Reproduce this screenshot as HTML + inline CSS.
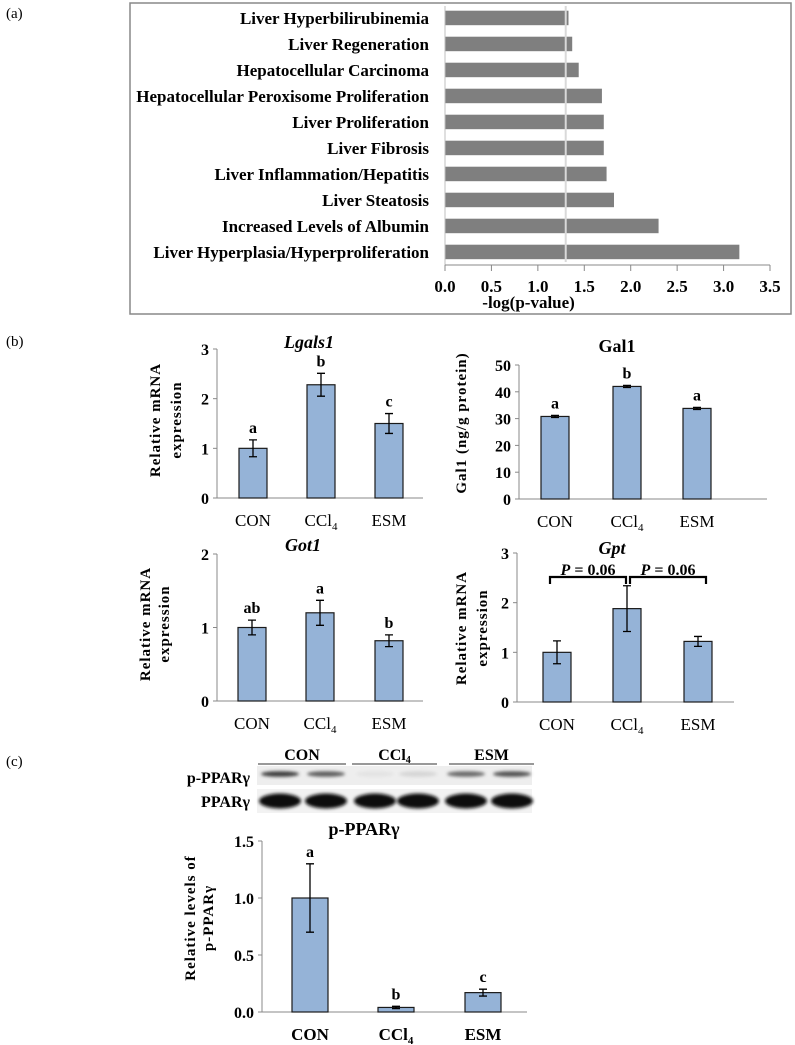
<!DOCTYPE html>
<html><head><meta charset="utf-8">
<style>
html,body{margin:0;padding:0;background:#fff;}
svg{display:block;font-family:"Liberation Serif",serif;}
</style></head>
<body>
<svg id="fig" width="795" height="1045" viewBox="0 0 795 1045" xmlns="http://www.w3.org/2000/svg">
<defs>
<filter id="blur1" x="-20%" y="-50%" width="140%" height="200%"><feGaussianBlur stdDeviation="1.6"/></filter>
</defs>
<rect x="0" y="0" width="795" height="1045" fill="#fff"/>
<text x="6" y="18" font-size="15">(a)</text>
<text x="6" y="346" font-size="15">(b)</text>
<text x="6" y="766" font-size="15">(c)</text>
<rect x="130" y="3" width="661" height="311" fill="none" stroke="#888" stroke-width="1.5"/>
<g id="pa"></g>
<g id="pb"></g>
<g id="pc"></g>
</svg>
<script>
const NS="http://www.w3.org/2000/svg";
// ---- Panel (a) data ----
const aCategories=["Liver Hyperbilirubinemia","Liver Regeneration","Hepatocellular Carcinoma","Hepatocellular Peroxisome Proliferation","Liver Proliferation","Liver Fibrosis","Liver Inflammation/Hepatitis","Liver Steatosis","Increased Levels of Albumin","Liver Hyperplasia/Hyperproliferation"];
const aValues=[1.33,1.37,1.44,1.69,1.71,1.71,1.74,1.82,2.30,3.17];
const aTicks=[0,0.5,1,1.5,2,2.5,3,3.5];
const aThreshold=1.3;
// ---- Panel (b)/(c) data ----
const groups=["CON","CCl4","ESM"];
const lgalsValues=[1.0,2.28,1.5];
const lgalsErrors=[0.17,0.23,0.2];
const lgalsLetters=["a","b","c"];
const lgalsTicks=[0,1,2,3];
const gal1Values=[30.8,42.0,33.8];
const gal1Errors=[0.4,0.4,0.4];
const gal1Letters=["a","b","a"];
const gal1Ticks=[0,10,20,30,40,50];
const got1Values=[1.0,1.2,0.82];
const got1Errors=[0.1,0.17,0.08];
const got1Letters=["ab","a","b"];
const got1Ticks=[0,1,2];
const gptValues=[1.0,1.88,1.22];
const gptErrors=[0.23,0.46,0.1];
const gptTicks=[0,1,2,3];
const pparValues=[1.0,0.04,0.17];
const pparErrors=[0.3,0.01,0.03];
const pparLetters=["a","b","c"];
const pparTicks=["0.0","0.5","1.0","1.5"];

function mk(tag,attrs,parent,text){const e=document.createElementNS(NS,tag);for(const k in attrs)e.setAttribute(k,attrs[k]);if(text!==undefined)e.textContent=text;parent.appendChild(e);return e;}

// ---- Panel (a) ----
(function(){
  const g=document.getElementById('pa');
  const x0=445,x1=770,dMax=3.5;
  const xs=v=>x0+(v/dMax)*(x1-x0);
  const yTop=10.7,pitch=26,bh=14.5;
  aCategories.forEach((c,i)=>{
    const y=yTop+i*pitch;
    const r=mk('rect',{x:x0,y:y,width:xs(aValues[i])-x0,height:bh,fill:'#7f7f7f'},g);
    
    
    const t=mk('text',{x:429,y:y+bh/2+6,'font-size':17,'font-weight':'bold','text-anchor':'end'},g,c);
    
    
  });
  const th=mk('line',{x1:xs(aThreshold),x2:xs(aThreshold),y1:6,y2:262,stroke:'#d9d9d9','stroke-width':2},g);
  
  
  const ax=mk('line',{x1:x0,x2:x0,y1:6,y2:265,stroke:'#bfbfbf','stroke-width':1},g);
  
  
  const bx=mk('line',{x1:x0,x2:x1,y1:265,y2:265,stroke:'#888','stroke-width':1},g);
  
  
  aTicks.forEach(v=>{
    mk('line',{x1:xs(v),x2:xs(v),y1:265,y2:271,stroke:'#888'},g);
    const t=mk('text',{x:xs(v),y:292,'font-size':17,'font-weight':'bold','text-anchor':'middle'},g,v.toFixed(1));
    
    
  });
  const tt=mk('text',{x:xs(0.9),y:308,'font-size':17,'font-weight':'bold','text-anchor':'middle'},g,'-log(p-value)');
  
  
})();

// ---- generic bar chart ----
function barChart(o){
  const g=mk('g',{},o.parent);
  
  
  const ys=v=>o.y0-(v/o.max)*(o.y0-o.yTop);
  mk('line',{x1:o.ax,x2:o.ax,y1:o.yTop,y2:o.y0,stroke:'#888'},g);
  mk('line',{x1:o.ax,x2:o.axEnd,y1:o.y0,y2:o.y0,stroke:'#888'},g);
  o.ticks.forEach(tk=>{
    const v=parseFloat(tk);
    mk('line',{x1:o.ax-4,x2:o.ax,y1:ys(v),y2:ys(v),stroke:'#888'},g);
    const t=mk('text',{x:o.ax-8,y:ys(v)+6,'font-size':16,'font-weight':'bold','text-anchor':'end'},g,String(tk));
    
    
  });
  groups.forEach((gr,i)=>{
    const cx=o.cx[i],v=o.values[i],e=o.errors[i];
    const r=mk('rect',{x:cx-o.bw/2,y:ys(v),width:o.bw,height:o.y0-ys(v),fill:'#95b3d7',stroke:'#1a1a1a','stroke-width':1.2},g);
    
    
    const eb=mk('path',{d:`M${cx},${ys(v+e)}V${ys(v-e)}M${cx-4},${ys(v+e)}H${cx+4}M${cx-4},${ys(v-e)}H${cx+4}`,stroke:'#000','stroke-width':1.3,fill:'none'},g);
    
    
    if(o.letters){
      const t=mk('text',{x:cx,y:ys(v+e)-7,'font-size':16,'font-weight':'bold','text-anchor':'middle'},g,o.letters[i]);
      
      
    }
    const xl=mk('text',{x:cx,y:o.y0+28,'font-size':17,'font-weight':o.xBold?'bold':'normal','text-anchor':'middle'},g);
    
    
    if(gr==='CCl4'){xl.appendChild(document.createTextNode('CCl'));mk('tspan',{'font-size':11,dy:4},xl,'4');}
    else xl.textContent=gr;
  });
  const tt=mk('text',{x:o.titleX,y:o.titleY,'font-size':18,'font-weight':'bold','font-style':o.italic?'italic':'normal','text-anchor':'middle'},g,o.title);
  
  
  o.ytitle.forEach((line,k)=>{
    const x=o.ytx[k];
    const t=mk('text',{x:x,y:o.yty,'font-size':15,'font-weight':'bold','text-anchor':'middle',transform:`rotate(-90 ${x} ${o.yty})`,'letter-spacing':'1'},g,line);
    
    
  });
  return {g,ys};
}
const pb=document.getElementById('pb');
barChart({parent:pb,name:'lgals1-chart',ax:217,axEnd:423,yTop:349,y0:498,max:3,ticks:lgalsTicks,cx:[253,321,389],bw:28,values:lgalsValues,errors:lgalsErrors,letters:lgalsLetters,title:'Lgals1',italic:true,titleX:309,titleY:348,ytitle:['Relative mRNA','expression'],ytx:[160,181],yty:420});
barChart({parent:pb,name:'gal1-chart',ax:519,axEnd:767,yTop:365,y0:499,max:50,ticks:gal1Ticks,cx:[555,627,697],bw:28,values:gal1Values,errors:gal1Errors,letters:gal1Letters,title:'Gal1',italic:false,titleX:617,titleY:352,ytitle:['Gal1  (ng/g protein)'],ytx:[466],yty:423});
barChart({parent:pb,name:'got1-chart',ax:217,axEnd:423,yTop:554,y0:701,max:2,ticks:got1Ticks,cx:[252,320,389],bw:28,values:got1Values,errors:got1Errors,letters:got1Letters,title:'Got1',italic:true,titleX:303,titleY:551,ytitle:['Relative mRNA','expression'],ytx:[150,169],yty:624});
const gpt=barChart({parent:pb,name:'gpt-chart',ax:517,axEnd:734,yTop:553,y0:702,max:3,ticks:gptTicks,cx:[557,627,698],bw:28,values:gptValues,errors:gptErrors,letters:null,title:'Gpt',italic:true,titleX:612,titleY:554,ytitle:['Relative mRNA','expression'],ytx:[466,487],yty:628});
// significance brackets for Gpt
[[550,626],[630,706]].forEach((b,k)=>{
  const p=mk('path',{d:`M${b[0]},584V577H${b[1]}V584`,stroke:'#000','stroke-width':2.2,fill:'none'},gpt.g);
  
  
  const t=mk('text',{x:(b[0]+b[1])/2,y:575,'font-size':16,'font-weight':'bold','text-anchor':'middle'},gpt.g);
  
  
  mk('tspan',{'font-style':'italic'},t,'P');
  t.appendChild(document.createTextNode(' = 0.06'));
});

// ---- Panel (c) ----
const pc=document.getElementById('pc');
(function(){
  const g=mk('g',{},pc);
  
  
  const hdr=[["CON",258,346],["CCl4",352,437],["ESM",449,534]];
  hdr.forEach(h=>{
    const t=mk('text',{x:(h[1]+h[2])/2,y:760,'font-size':16,'font-weight':'bold','text-anchor':'middle'},g);
    
    
    if(h[0]==='CCl4'){t.appendChild(document.createTextNode('CCl'));mk('tspan',{'font-size':10,dy:3},t,'4');}else t.textContent=h[0];
    mk('line',{x1:h[1],x2:h[2],y1:764,y2:764,stroke:'#333','stroke-width':1},g);
  });
  const l1=mk('text',{x:250,y:783,'font-size':16,'font-weight':'bold','text-anchor':'end'},g,'p-PPARγ');
  
  
  const l2=mk('text',{x:250,y:807,'font-size':16,'font-weight':'bold','text-anchor':'end'},g,'PPARγ');
  
  
  mk('rect',{x:257,y:766,width:275,height:19,fill:'#eeeeee'},g);
  mk('rect',{x:257,y:789,width:275,height:24,fill:'#f2f2f2'},g);
  const lanes=[280,326,375,418,466,512];
  const pInt=[0.85,0.7,0.12,0.18,0.65,0.75];
  lanes.forEach((cx,i)=>{
    const c=Math.round(255-pInt[i]*230);
    mk('ellipse',{cx:cx,cy:774,rx:19,ry:2.8,fill:`rgb(${c},${c},${c})`,filter:'url(#blur1)'},g);
    mk('ellipse',{cx:cx,cy:801,rx:21,ry:7.5,fill:'#111',filter:'url(#blur1)'},g);
  });
})();
barChart({parent:pc,name:'p-ppar-chart',ax:262,axEnd:527,yTop:841,y0:1012,max:1.5,ticks:pparTicks,cx:[310,396,483],bw:36,values:pparValues,errors:pparErrors,letters:pparLetters,title:'p-PPARγ',italic:false,titleX:364,titleY:835,ytitle:['Relative levels of','p-PPARγ'],ytx:[195,213],yty:918,xBold:true});
</script>
</body></html>
